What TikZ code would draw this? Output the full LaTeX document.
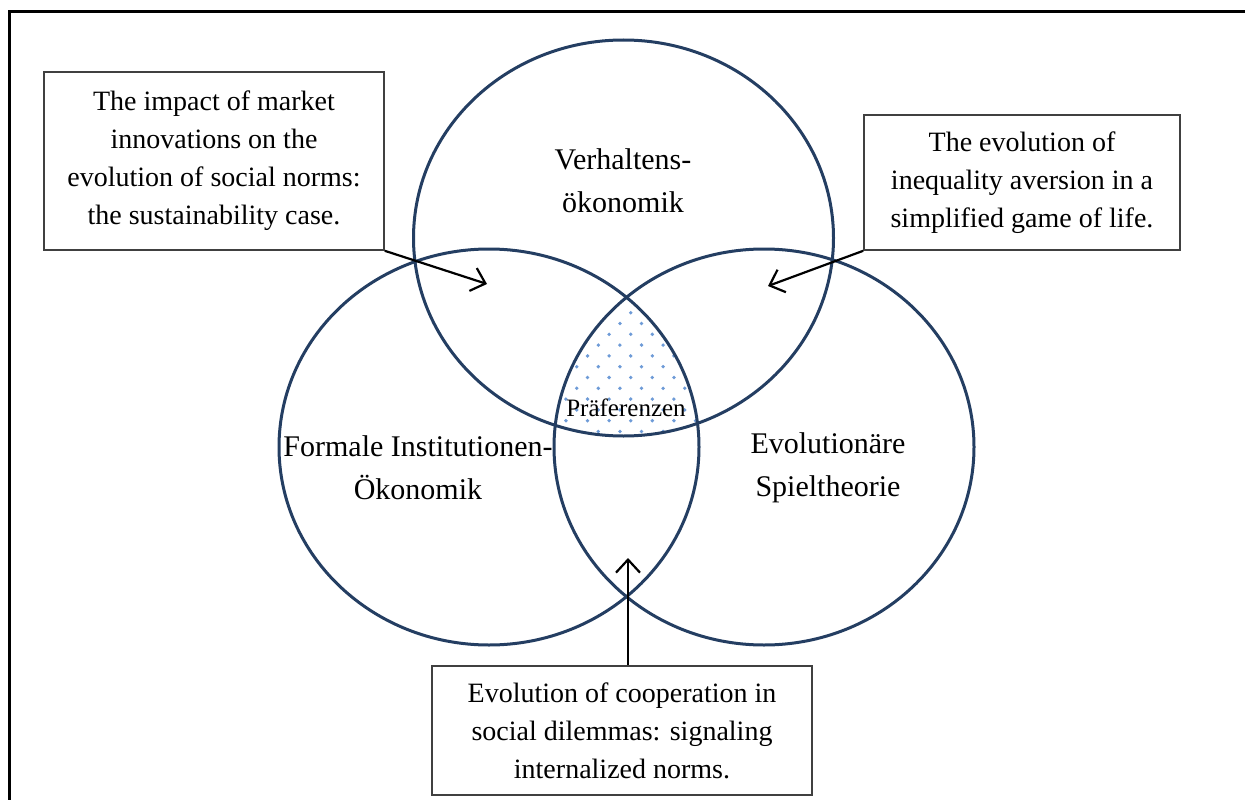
\documentclass[tikz,border=0pt]{standalone}
\usepackage{fontspec}
\setmainfont{Liberation Serif}
\usetikzlibrary{arrows.meta,shapes.geometric}
\definecolor{ringcol}{RGB}{36,62,98}
\definecolor{dotblue}{RGB}{110,155,215}
\definecolor{boxline}{RGB}{64,64,64}
\begin{document}
\begin{tikzpicture}[x=1pt,y=-1pt,
  ring/.style={draw=ringcol, line width=3pt, ellipse, minimum width=420pt, minimum height=396pt, inner sep=0pt},
  textbox/.style={draw=boxline, line width=1.6pt, fill=white, align=center,
    font=\fontsize{28}{38}\selectfont, inner sep=0pt},
  field/.style={align=center, font=\fontsize{30}{43}\selectfont, inner sep=0pt},
  pointer/.style={line width=2.2pt, -{Straight Barb[length=13pt,width=24pt,line width=2.2pt]}}
]
\useasboundingbox (0,0) rectangle (1245,800);

% frame (top and left edges)
\draw[line width=3pt] (9,800) -- (9,12) -- (1245,12);

% dotted common area of the three fields
\begin{scope}
  \clip (623.5,238) ellipse [x radius=210, y radius=198];
  \clip (489,447) ellipse [x radius=210, y radius=198];
  \clip (764,447) ellipse [x radius=210, y radius=198];
  \foreach \j in {0,...,13}
    \foreach \i in {-6,...,6}
      \fill[dotblue] ({630.7+21.6*\i+10.8*mod(\j+1,2)}, {301.9+10.8*\j}) circle (1.9pt);
\end{scope}

% the three fields
\node[ring] (verh) at (623.5,238) {};
\node[ring] (inst) at (489,447) {};
\node[ring] (spiel) at (764,447) {};

\node[field] (verhlab) at (623,181) {Verhaltens-\\ökonomik};
\node[field] (instlab) at (418,468) {Formale Institutionen-\\Ökonomik};
\node[field] (spiellab) at (828,468) {Evolutionäre\\Spieltheorie};
\node[inner sep=0pt, font=\fontsize{25}{28}\selectfont] (pref) at (626,408) {Präferenzen};

% topic boxes
\node[textbox, minimum width=340pt, minimum height=178pt] (lbox) at (214,161)
  {The impact of market\\innovations on the\\evolution of social norms:\\the sustainability case.};
\node[textbox, minimum width=316pt, minimum height=135pt] (rbox) at (1022,182.5)
  {The evolution of\\inequality aversion in a\\simplified game of life.};
\node[textbox, minimum width=380pt, minimum height=129pt] (bbox) at (622,730.5)
  {Evolution of cooperation in\\social dilemmas: signaling\\internalized norms.};

% pointers into the fields
\coordinate (tipL) at (487,284);
\coordinate (tipR) at (768,286);
\coordinate (tipB) at (628,558);
\draw[pointer] (lbox.south east) -- (tipL);
\draw[pointer] (rbox.south west) -- (tipR);
\draw[pointer] (bbox.north -| tipB) -- (tipB);
\end{tikzpicture}
\end{document}
